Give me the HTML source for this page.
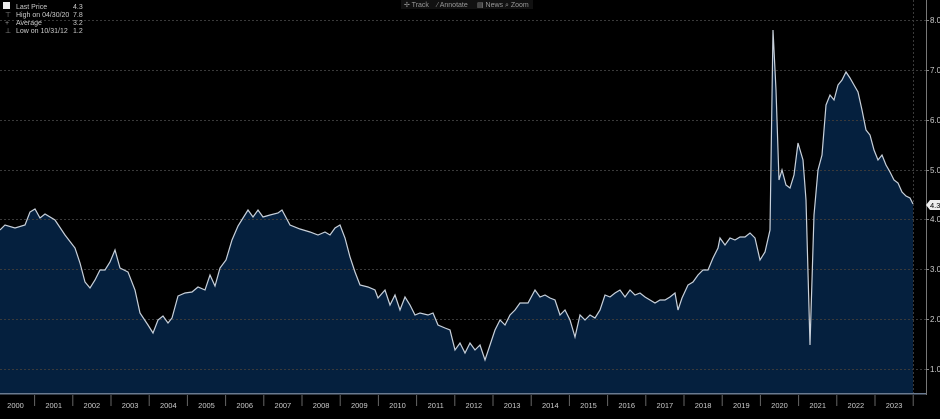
<!DOCTYPE html>
<html><head><meta charset="utf-8"><style>
html,body{margin:0;padding:0;background:#000;}
body{width:940px;height:414px;overflow:hidden;font-family:"Liberation Sans",sans-serif;}
</style></head><body>
<svg width="940" height="414" xmlns="http://www.w3.org/2000/svg" font-family="Liberation Sans, sans-serif">
<rect width="940" height="414" fill="#000"/>
<polygon fill="#05203e" points="0,230 5,225 15,228 25,225 30,212 35,209 40,218 45,214 55,220 65,235 75,248 80,263 85,282 90,288 95,280 100,270 105,270 110,262 115,250 120,268 128,272 135,290 140,313 148,325 153,333 158,320 163,316 168,323 172,318 178,296 185,293 192,292 198,287 205,290 210,275 215,286 220,268 226,260 232,240 238,226 243,218 248,210 253,217 258,210 263,217 270,215 278,213 282,210 290,225 300,229 310,232 318,235 325,232 330,235 335,228 340,225 345,238 350,257 355,272 360,285 368,287 375,290 378,298 385,290 390,305 395,295 400,310 405,297 410,305 415,315 420,313 428,315 433,313 438,325 445,328 450,330 455,350 460,343 465,353 470,343 475,350 480,345 485,360 490,345 495,330 500,320 505,325 510,315 515,310 520,303 528,303 535,290 540,297 545,295 550,298 555,300 560,315 565,310 570,320 575,337 580,315 585,320 590,315 595,318 600,310 605,295 610,297 615,293 620,290 625,297 630,290 635,295 640,293 645,297 650,300 655,303 660,300 665,300 670,297 675,293 678,310 682,298 688,285 693,282 698,275 703,270 708,270 713,258 718,248 720,238 725,245 730,238 735,240 740,237 745,237 750,233 755,238 760,260 765,252 770,230 773,30 776,90 779,180 782,170 786,185 790,188 794,175 798,143 803,160 806,200 810,345 814,215 818,170 822,155 826,105 830,95 834,100 838,85 842,80 846,72 850,78 854,85 858,92 862,110 866,130 870,135 874,150 878,160 882,155 886,165 890,172 894,180 898,183 902,192 906,196 910,198 913,204 913,393 0,393"/>
<g stroke="#3a3a3a" stroke-width="1" stroke-dasharray="2,2">
<line x1="0" x2="926" y1="20.5" y2="20.5"/><line x1="0" x2="926" y1="70.5" y2="70.5"/>
<line x1="0" x2="926" y1="120.5" y2="120.5"/><line x1="0" x2="926" y1="170.5" y2="170.5"/>
<line x1="0" x2="926" y1="219.5" y2="219.5"/><line x1="0" x2="926" y1="269.5" y2="269.5"/>
<line x1="0" x2="926" y1="319.5" y2="319.5"/><line x1="0" x2="926" y1="369.5" y2="369.5"/>
<line x1="913.5" x2="913.5" y1="0" y2="393"/>
</g>
<polyline fill="none" stroke="#c8d0da" stroke-width="1.2" points="0,230 5,225 15,228 25,225 30,212 35,209 40,218 45,214 55,220 65,235 75,248 80,263 85,282 90,288 95,280 100,270 105,270 110,262 115,250 120,268 128,272 135,290 140,313 148,325 153,333 158,320 163,316 168,323 172,318 178,296 185,293 192,292 198,287 205,290 210,275 215,286 220,268 226,260 232,240 238,226 243,218 248,210 253,217 258,210 263,217 270,215 278,213 282,210 290,225 300,229 310,232 318,235 325,232 330,235 335,228 340,225 345,238 350,257 355,272 360,285 368,287 375,290 378,298 385,290 390,305 395,295 400,310 405,297 410,305 415,315 420,313 428,315 433,313 438,325 445,328 450,330 455,350 460,343 465,353 470,343 475,350 480,345 485,360 490,345 495,330 500,320 505,325 510,315 515,310 520,303 528,303 535,290 540,297 545,295 550,298 555,300 560,315 565,310 570,320 575,337 580,315 585,320 590,315 595,318 600,310 605,295 610,297 615,293 620,290 625,297 630,290 635,295 640,293 645,297 650,300 655,303 660,300 665,300 670,297 675,293 678,310 682,298 688,285 693,282 698,275 703,270 708,270 713,258 718,248 720,238 725,245 730,238 735,240 740,237 745,237 750,233 755,238 760,260 765,252 770,230 773,30 776,90 779,180 782,170 786,185 790,188 794,175 798,143 803,160 806,200 810,345 814,215 818,170 822,155 826,105 830,95 834,100 838,85 842,80 846,72 850,78 854,85 858,92 862,110 866,130 870,135 874,150 878,160 882,155 886,165 890,172 894,180 898,183 902,192 906,196 910,198 913,204"/>
<rect x="0" y="393" width="926" height="1.5" fill="#6a7a90"/>
<line x1="926.5" y1="0" x2="926.5" y2="395" stroke="#777" stroke-width="1"/>
<g fill="#ccc" font-size="8">
<text x="930" y="23">8.0</text><text x="930" y="73">7.0</text><text x="930" y="123">6.0</text>
<text x="930" y="173">5.0</text><text x="930" y="222">4.0</text><text x="930" y="272">3.0</text>
<text x="930" y="322">2.0</text><text x="930" y="372">1.0</text>
</g>
<g stroke="#888"><line x1="926" x2="929" y1="20.5" y2="20.5"/><line x1="926" x2="929" y1="70.5" y2="70.5"/><line x1="926" x2="929" y1="120.5" y2="120.5"/><line x1="926" x2="929" y1="170.5" y2="170.5"/><line x1="926" x2="929" y1="219.5" y2="219.5"/><line x1="926" x2="929" y1="269.5" y2="269.5"/><line x1="926" x2="929" y1="319.5" y2="319.5"/><line x1="926" x2="929" y1="369.5" y2="369.5"/></g>
<polygon points="926,205 930,200 940,200 940,210 930,210" fill="#eee"/>
<text x="930" y="208" font-size="7.5" fill="#000">4.3</text>
<g stroke="#666" stroke-width="1">
<line x1="34.6" x2="34.6" y1="395" y2="406"/><line x1="72.8" x2="72.8" y1="395" y2="406"/><line x1="111" x2="111" y1="395" y2="406"/><line x1="149.2" x2="149.2" y1="395" y2="406"/><line x1="187.4" x2="187.4" y1="395" y2="406"/><line x1="225.6" x2="225.6" y1="395" y2="406"/><line x1="263.8" x2="263.8" y1="395" y2="406"/><line x1="302" x2="302" y1="395" y2="406"/><line x1="340.2" x2="340.2" y1="395" y2="406"/><line x1="378.4" x2="378.4" y1="395" y2="406"/><line x1="416.6" x2="416.6" y1="395" y2="406"/><line x1="454.8" x2="454.8" y1="395" y2="406"/><line x1="493" x2="493" y1="395" y2="406"/><line x1="531.2" x2="531.2" y1="395" y2="406"/><line x1="569.4" x2="569.4" y1="395" y2="406"/><line x1="607.6" x2="607.6" y1="395" y2="406"/><line x1="645.8" x2="645.8" y1="395" y2="406"/><line x1="684" x2="684" y1="395" y2="406"/><line x1="722.2" x2="722.2" y1="395" y2="406"/><line x1="760.4" x2="760.4" y1="395" y2="406"/><line x1="798.6" x2="798.6" y1="395" y2="406"/><line x1="836.8" x2="836.8" y1="395" y2="406"/><line x1="875" x2="875" y1="395" y2="406"/><line x1="913.2" x2="913.2" y1="395" y2="406"/>
</g>
<g font-size="7.5" fill="#ccc" text-anchor="middle">
<text x="15.5" y="408">2000</text><text x="53.7" y="408">2001</text><text x="91.9" y="408">2002</text><text x="130.1" y="408">2003</text><text x="168.3" y="408">2004</text><text x="206.5" y="408">2005</text><text x="244.7" y="408">2006</text><text x="282.9" y="408">2007</text><text x="321.1" y="408">2008</text><text x="359.3" y="408">2009</text><text x="397.5" y="408">2010</text><text x="435.7" y="408">2011</text><text x="473.9" y="408">2012</text><text x="512.1" y="408">2013</text><text x="550.3" y="408">2014</text><text x="588.5" y="408">2015</text><text x="626.7" y="408">2016</text><text x="664.9" y="408">2017</text><text x="703.1" y="408">2018</text><text x="741.3" y="408">2019</text><text x="779.5" y="408">2020</text><text x="817.7" y="408">2021</text><text x="855.9" y="408">2022</text><text x="894.1" y="408">2023</text>
</g>
<g fill="#ccc" font-size="7">
<rect x="3" y="2" width="7" height="7" fill="#eee"/>
<text x="16" y="9">Last Price</text><text x="73" y="9">4.3</text>
<text x="16" y="17">High on 04/30/20</text><text x="73" y="17">7.8</text>
<text x="16" y="25">Average</text><text x="73" y="25">3.2</text>
<text x="16" y="33">Low on 10/31/12</text><text x="73" y="33">1.2</text>
<text x="5" y="17" fill="#999">⊤</text><text x="5" y="25" fill="#999">+</text><text x="5" y="33" fill="#999">⊥</text>
</g>
<rect x="401" y="0" width="132" height="9" fill="#111"/>
<g fill="#999" font-size="7"><text x="404" y="7">✢ Track</text><text x="437" y="7">⁄ Annotate</text><text x="477" y="7">▤ News</text><text x="505" y="7">⌕ Zoom</text></g>
</svg>
</body></html>
